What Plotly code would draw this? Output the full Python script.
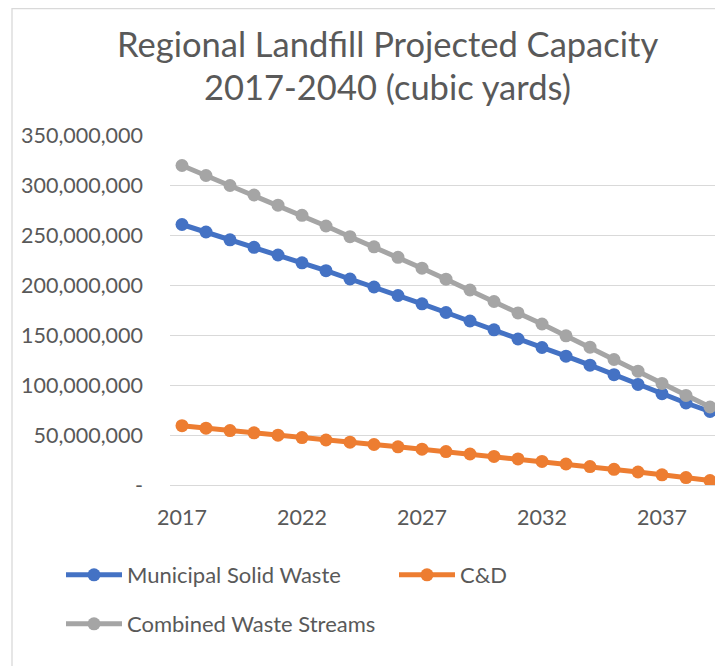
import plotly.graph_objects as go

years = list(range(2017, 2040))
msw = [260.5, 253.0, 245.2, 237.7, 230.0, 222.2, 214.3, 206.0, 198.0, 189.5, 181.2, 172.5,
       164.0, 155.2, 146.0, 137.5, 128.8, 119.8, 110.3, 100.6, 91.3, 82.0, 73.5]
cd = [59.3, 56.8, 54.4, 52.2, 49.8, 47.4, 45.0, 42.8, 40.5, 38.2, 35.8, 33.4,
      31.0, 28.6, 26.1, 23.6, 21.0, 18.4, 15.7, 13.0, 10.2, 7.4, 4.4]
combined = [319.5, 309.5, 299.5, 290.0, 279.8, 269.7, 259.0, 248.3, 238.2, 227.7, 216.8, 205.8,
            195.0, 183.5, 172.1, 161.0, 149.2, 137.8, 125.5, 113.8, 101.6, 89.6, 78.0]
series_names = ["Municipal Solid Waste", "C&D", "Combined Waste Streams"]
colors = ["#4472C4", "#ED7D31", "#A5A5A5"]
y_tickvals = [0, 50e6, 100e6, 150e6, 200e6, 250e6, 300e6, 350e6]
y_ticktext = ["-", "50,000,000", "100,000,000", "150,000,000", "200,000,000",
              "250,000,000", "300,000,000", "350,000,000"]
x_tickvals = [2017, 2022, 2027, 2032, 2037]
title_lines = ["Regional Landfill Projected Capacity", "2017-2040 (cubic yards)"]

FONT = "Lato"
GRAY = "#595959"
OFF = 8  # page body margin
W, H = 715, 658
L, R, T, B = 162, 7, 127, 181
PW = W - L - R
PH = H - T - B


def px(x):
    # page x -> paper
    return (x - OFF - L) / PW


def py(y):
    # page y -> paper
    return (H - B - (y - OFF)) / PH


fig = go.Figure()
data = [msw, cd, combined]
legends = ["legend", "legend2", "legend3"]
for name, vals, c, lg in zip(series_names, data, colors, legends):
    fig.add_trace(go.Scatter(
        x=years, y=[v * 1e6 for v in vals], name=name, mode="lines+markers",
        line=dict(color=c, width=5), marker=dict(color=c, size=13),
        legend=lg, cliponaxis=True,
    ))

leg_common = dict(orientation="h", yanchor="middle", xanchor="left", itemwidth=56,
                  font=dict(size=22, color=GRAY, family=FONT), bgcolor="rgba(0,0,0,0)")

fig.update_layout(
    width=W, height=H,
    margin=dict(l=L, r=R, t=T, b=B, pad=0),
    paper_bgcolor="white", plot_bgcolor="white",
    font=dict(family=FONT, color=GRAY, size=21.5),
    showlegend=True,
    legend=dict(x=px(61), y=py(575), **leg_common),
    legend2=dict(x=px(394), y=py(575), **leg_common),
    legend3=dict(x=px(61), y=py(624), **leg_common),
    xaxis=dict(range=[2016.5, 2016.5 + PW / 24.0], tickvals=x_tickvals,
               showgrid=False, zeroline=False, showline=True, linecolor="#D9D9D9",
               linewidth=1, ticks="", ticklabelstandoff=13,
               tickfont=dict(size=21.5, color=GRAY, family=FONT)),
    yaxis=dict(range=[0, 350e6], tickvals=y_tickvals, ticktext=y_ticktext,
               showgrid=True, gridcolor="#D9D9D9", gridwidth=1.3, zeroline=False,
               showline=False, ticks="", ticklabelstandoff=26,
               tickfont=dict(size=21.5, color=GRAY, family=FONT)),
    annotations=[
        dict(text=title_lines[0], xref="paper", yref="paper", x=px(387), y=py(43.5),
             xanchor="center", yanchor="middle", showarrow=False,
             font=dict(size=34.5, color=GRAY, family=FONT)),
        dict(text=title_lines[1], xref="paper", yref="paper", x=px(387), y=py(86.5),
             xanchor="center", yanchor="middle", showarrow=False,
             font=dict(size=34.5, color=GRAY, family=FONT)),
    ],
    shapes=[dict(type="rect", xref="paper", yref="paper", x0=px(12), x1=px(717),
                 y0=py(720), y1=py(8.5), line=dict(color="#D9D9D9", width=1.3),
                 fillcolor="rgba(0,0,0,0)", layer="below")],
)

fig.write_html("out.html")
